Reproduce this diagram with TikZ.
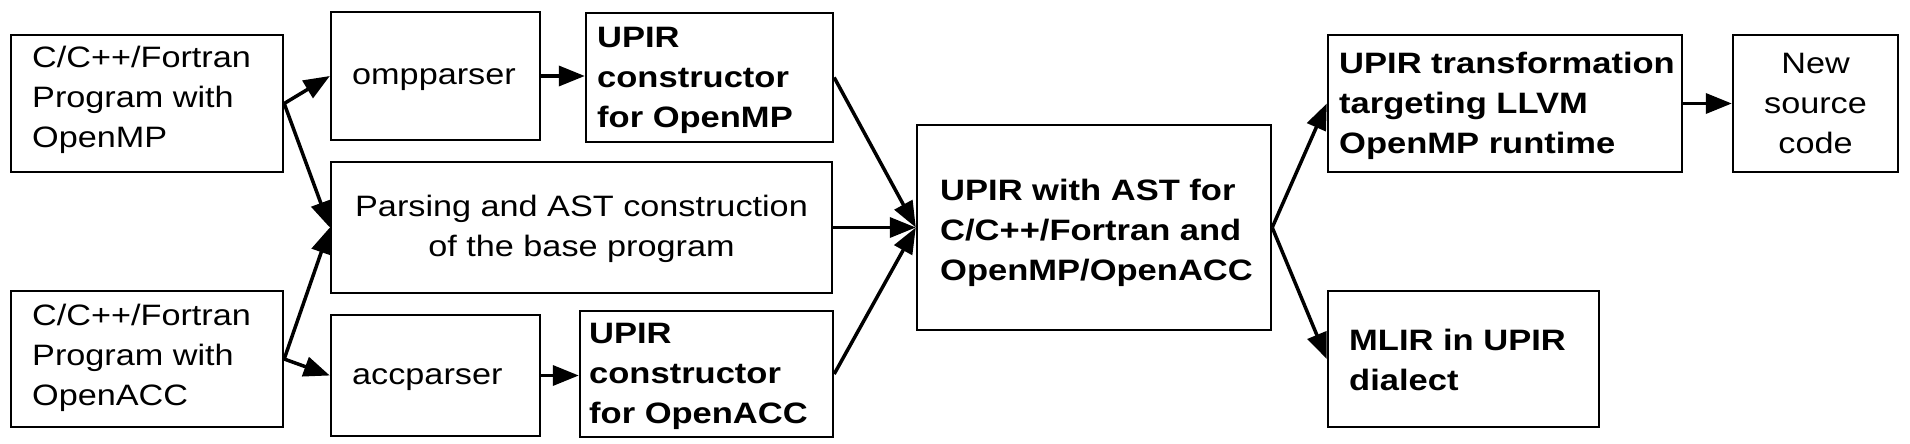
\documentclass[tikz,border=0pt]{standalone}
\usepackage{fontspec}
\setmainfont{Liberation Sans}[FakeStretch=1.16,BoldFeatures={FakeStretch=1.17}]
\usetikzlibrary{arrows.meta}
\begin{document}
\begin{tikzpicture}[x=1pt,y=-1pt,
  box/.style={draw=black,line width=2.4pt,inner sep=0pt},
  txt/.style={inner sep=0pt,align=left,font=\fontsize{29.5}{40}\selectfont},
  btxt/.style={txt,font=\fontsize{29.5}{40}\selectfont\bfseries},
  ctxt/.style={txt,align=center},
  arr/.style={line width=3.5pt,-{Triangle[length=26pt,width=20pt]}}]
\useasboundingbox (0,0) rectangle (1910,444);
% boxes
\node[box,minimum width=272pt,minimum height=137pt] (A) at (147,103.5) {};
\node[box,minimum width=272pt,minimum height=136pt] (B) at (147,359) {};
\node[box,minimum width=209pt,minimum height=128pt] (omp) at (435.5,76) {};
\node[box,minimum width=247pt,minimum height=129pt] (uomp) at (709.5,77.5) {};
\node[box,minimum width=501pt,minimum height=131pt] (parse) at (581.5,227.5) {};
\node[box,minimum width=209pt,minimum height=121pt] (acc) at (435.5,375.5) {};
\node[box,minimum width=253pt,minimum height=126pt] (uacc) at (706.5,374) {};
\node[box,minimum width=354pt,minimum height=205pt] (ast) at (1094,227.5) {};
\node[box,minimum width=354pt,minimum height=137pt] (trans) at (1505,103.5) {};
\node[box,minimum width=165pt,minimum height=137pt] (newsrc) at (1815.5,103.5) {};
\node[box,minimum width=271pt,minimum height=136pt] (mlir) at (1463.5,359) {};
% texts (anchored at the baseline of their last line)
\node[txt,anchor=base west] (At) at (32,147) {C/C++/Fortran\\Program with\\OpenMP};
\node[txt,anchor=base west] (Bt) at (32,405) {C/C++/Fortran\\Program with\\OpenACC};
\node[txt,anchor=base west] (ompt) at (352,84) {ompparser};
\node[btxt,anchor=base west] (uompt) at (597,127) {UPIR\\constructor\\for OpenMP};
\node[ctxt,anchor=base] (parset) at (581.5,256) {Parsing and AST construction\\of the base program};
\node[txt,anchor=base west] (acct) at (352,384) {accparser};
\node[btxt,anchor=base west] (uacct) at (589,423) {UPIR\\constructor\\for OpenACC};
\node[btxt,anchor=base west] (astt) at (940,280) {UPIR with AST for\\C/C++/Fortran and\\OpenMP/OpenACC};
\node[btxt,anchor=base west] (transt) at (1339,153) {UPIR transformation\\targeting LLVM\\OpenMP runtime};
\node[ctxt,anchor=base] (newsrct) at (1815.5,153) {New\\source\\code};
\node[btxt,anchor=base west] (mlirt) at (1349,390) {MLIR in UPIR\\dialect};
% arrows
\draw[arr] (A.east) -- (omp.west);
\draw[arr] (A.east) -- (parse.west);
\draw[arr] (B.east) -- (parse.west);
\draw[arr] (B.east) -- (acc.west);
\draw[arr] (omp.east) -- (omp.east -| uomp.west);
\draw[arr] (acc.east) -- (acc.east -| uacc.west);
\draw[arr] (uomp.east) -- (ast.west);
\draw[arr] (parse.east) -- (ast.west);
\draw[arr] (uacc.east) -- (ast.west);
\draw[arr] (ast.east) -- (trans.west);
\draw[arr] (ast.east) -- (mlir.west);
\draw[arr] (trans.east) -- (newsrc.west);
\end{tikzpicture}
\end{document}
